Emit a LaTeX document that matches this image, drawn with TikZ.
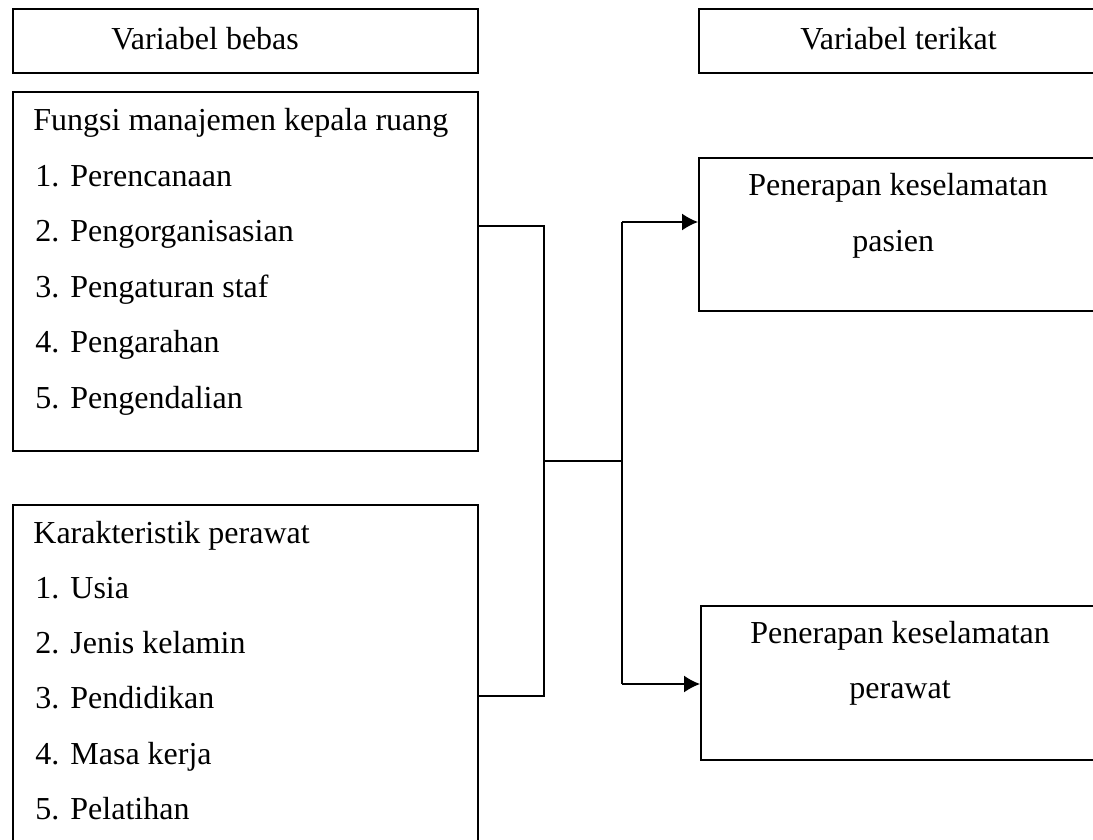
\documentclass[tikz,border=0pt]{standalone}
\usepackage{fontspec}
\setmainfont{Liberation Serif}
\usetikzlibrary{arrows.meta}
\tikzset{
  box/.style={draw=black, line width=0.9pt, rectangle, anchor=north west, inner sep=0pt, minimum width=#1},
  txt/.style={anchor=base west, inner sep=0pt, font=\fontsize{16pt}{18pt}\selectfont},
  conn/.style={draw=black, line width=0.75pt},
  arr/.style={conn, -{Latex[length=8pt,width=8.5pt]}}
}
\begin{document}
\begin{tikzpicture}[x=0.5pt, y=-0.5pt]
\useasboundingbox (0,0) rectangle (1093,840);
% boxes
\node[box=232.5pt, minimum height=32pt] (vb) at (12,8) {};
\node[box=201pt, minimum height=32pt] (vt) at (698,8) {};
\node[box=232.5pt, minimum height=179.5pt] (fm) at (12,91) {};
\node[box=232.5pt, minimum height=173pt] (kp) at (12,504) {};
\node[box=201pt, minimum height=76.5pt] (ps) at (698,157) {};
\node[box=200pt, minimum height=77pt] (pw) at (700,605) {};
% header texts
\node[txt] (tvb) at (111,50) {Variabel bebas};
\node[txt] (tvt) at (800,50) {Variabel terikat};
% fungsi manajemen
\node[txt] (fm0) at (33,131) {Fungsi manajemen kepala ruang};
\node[txt] (fm1n) at (35,186.4) {1.};
\node[txt] (fm1) at (70,186.4) {Perencanaan};
\node[txt] (fm2n) at (35,241.8) {2.};
\node[txt] (fm2) at (70,241.8) {Pengorganisasian};
\node[txt] (fm3n) at (35,297.2) {3.};
\node[txt] (fm3) at (70,297.2) {Pengaturan staf};
\node[txt] (fm4n) at (35,352.6) {4.};
\node[txt] (fm4) at (70,352.6) {Pengarahan};
\node[txt] (fm5n) at (35,408) {5.};
\node[txt] (fm5) at (70,408) {Pengendalian};
% karakteristik perawat
\node[txt] (kp0) at (33,543) {Karakteristik perawat};
\node[txt] (kp1n) at (35,598.3) {1.};
\node[txt] (kp1) at (70,598.3) {Usia};
\node[txt] (kp2n) at (35,653.6) {2.};
\node[txt] (kp2) at (70,653.6) {Jenis kelamin};
\node[txt] (kp3n) at (35,708.9) {3.};
\node[txt] (kp3) at (70,708.9) {Pendidikan};
\node[txt] (kp4n) at (35,764.2) {4.};
\node[txt] (kp4) at (70,764.2) {Masa kerja};
\node[txt] (kp5n) at (35,819.5) {5.};
\node[txt] (kp5) at (70,819.5) {Pelatihan};
% dependent variables
\node[txt] (ps1) at (748,196) {Penerapan keselamatan};
\node[txt] (ps2) at (852,251) {pasien};
\node[txt] (pw1) at (750,643) {Penerapan keselamatan};
\node[txt] (pw2) at (849,698) {perawat};
% connectors
\coordinate (b1) at (544,226);
\coordinate (b2) at (544,696);
\coordinate (bm) at (544,461);
\coordinate (c1) at (622,222);
\coordinate (c2) at (622,684);
\coordinate (cm) at (622,461);
\draw[conn] (fm.east |- b1) -- (b1) -- (b2) -- (kp.east |- b2);
\draw[conn] (bm) -- (cm);
\draw[conn] (c1) -- (c2);
\draw[arr] (c1) -- (ps.west |- c1);
\draw[arr] (c2) -- (pw.west |- c2);
\end{tikzpicture}
\end{document}
